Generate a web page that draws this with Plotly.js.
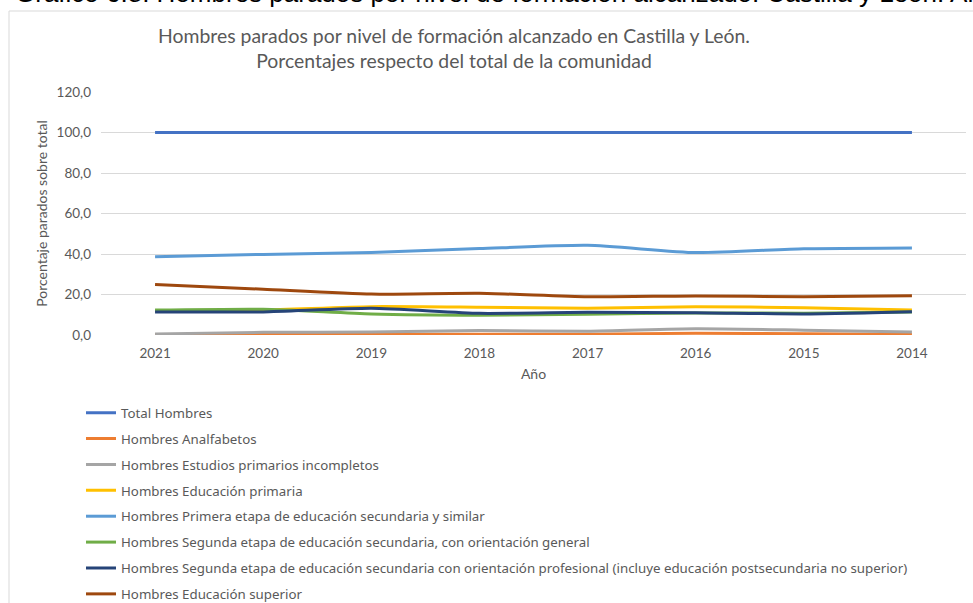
<!DOCTYPE html>
<html>
<head>
<meta charset="utf-8">
<script src="https://cdn.plot.ly/plotly-3.0.1.min.js"></script>
<style>
html,body{margin:0;padding:0;background:#fff;overflow:hidden;}
#chart{width:973px;height:603px;}
</style>
</head>
<body>
<div id="chart"></div>
<script>
const years = ["2021","2020","2019","2018","2017","2016","2015","2014"];
const seriesNames = [
  "Total Hombres",
  "Hombres Analfabetos",
  "Hombres Estudios primarios incompletos",
  "Hombres Educación primaria",
  "Hombres Primera etapa de educación secundaria y similar",
  "Hombres Segunda etapa de educación secundaria, con orientación general",
  "Hombres Segunda etapa de educación secundaria con orientación profesional (incluye educación postsecundaria no superior)",
  "Hombres Educación superior"
];
const totalHombres   = [100, 100, 100, 100, 100, 100, 100, 100];
const analfabetos    = [0.2, 0.3, 0.3, 0.4, 0.4, 0.9, 0.6, 0.3];
const primIncomp     = [0.5, 1.3, 1.5, 2.2, 1.9, 3.1, 2.4, 1.5];
const primaria       = [12.0, 12.4, 14.0, 13.7, 13.2, 14.0, 13.5, 12.3];
const primeraEtapa   = [38.7, 39.8, 40.8, 42.7, 44.3, 40.7, 42.6, 43.0];
const segGeneral     = [12.3, 12.7, 10.4, 9.8, 10.2, 10.9, 10.8, 11.4];
const segProfesional = [11.4, 11.4, 13.2, 10.7, 11.2, 11.0, 10.4, 11.5];
const superior       = [25.0, 22.6, 20.2, 20.6, 18.9, 19.3, 18.9, 19.4];
const yTicks = [0, 20, 40, 60, 80, 100, 120];

const values = [totalHombres, analfabetos, primIncomp, primaria, primeraEtapa, segGeneral, segProfesional, superior];
const colors = ["#4472C4","#ED7D31","#A5A5A5","#FFC000","#5B9BD5","#70AD47","#264478","#9E480E"];

const traces = values.map((v, i) => ({
  type: "scatter",
  mode: "lines",
  x: years,
  y: v,
  name: seriesNames[i],
  legendgroup: "g" + i,
  line: {color: colors[i], width: 3, shape: "spline", smoothing: 0.6},
  hoverinfo: "skip"
}));

const FONT = "Lato, sans-serif";
const gray = "#595959";

const L = 101, R = 966, T = 92, B = 335;
const W = 973, H = 603;
const px = x => (x - L) / (R - L);
const py = y => (B - y) / (B - T);

const layout = {
  width: W, height: H,
  margin: {l: L, r: W - R, t: T, b: H - B, pad: 0, autoexpand: false},
  paper_bgcolor: "#ffffff",
  plot_bgcolor: "#ffffff",
  separators: ", ",
  font: {family: FONT, color: gray, size: 13},
  showlegend: true,
  title: {
    text: "Hombres parados por nivel de formación alcanzado en Castilla y León.<br>Porcentajes respecto del total de la comunidad",
    font: {family: FONT, size: 19.4, color: gray},
    x: 454 / W, xanchor: "center",
    y: 1 - 42.5 / H, yanchor: "middle",
    xref: "container", yref: "container"
  },
  xaxis: {
    type: "category",
    categoryorder: "array",
    categoryarray: years,
    range: [-0.5, 7.5],
    showgrid: false,
    zeroline: false,
    showline: false,
    ticks: "",
    ticklabelstandoff: 8,
    tickfont: {family: FONT, size: 13.5, color: gray},
    title: {text: "Año", font: {family: FONT, size: 14, color: gray}, standoff: 9}
  },
  yaxis: {
    range: [0, 120],
    tickvals: yTicks,
    tickformat: ".1f",
    showgrid: true,
    gridcolor: "#d9d9d9",
    gridwidth: 1,
    zeroline: false,
    showline: false,
    ticks: "",
    ticklabelstandoff: 9,
    tickfont: {family: FONT, size: 13.5, color: gray},
    title: {text: "Porcentaje parados sobre total", font: {family: FONT, size: 14, color: gray}, standoff: 5}
  },
  legend: {
    x: px(81), xanchor: "left",
    y: py(397.5), yanchor: "top",
    orientation: "v",
    traceorder: "grouped",
    tracegroupgap: 5.6,
    font: {family: "Noto Sans", size: 13.3, color: gray},
    bgcolor: "rgba(0,0,0,0)",
    itemwidth: 30
  },
  shapes: [
    {type: "rect", xref: "paper", yref: "paper",
     x0: px(9), x1: px(1200), y0: py(900), y1: py(11),
     line: {color: "#d9d9d9", width: 1}, fillcolor: "rgba(0,0,0,0)", layer: "below"}
  ],
  annotations: [
    {text: "Gráfico 6.8: Hombres parados por nivel de formación alcanzado. Castilla y León. Años 2014-2021",
     xref: "paper", yref: "paper",
     x: px(13), xanchor: "left",
     y: py(10), yanchor: "bottom",
     showarrow: false,
     font: {family: "'Liberation Sans', Arial, sans-serif", size: 26, color: "#000000"}}
  ]
};

Plotly.newPlot("chart", traces, layout, {displayModeBar: false, staticPlot: true});
</script>
</body>
</html>
